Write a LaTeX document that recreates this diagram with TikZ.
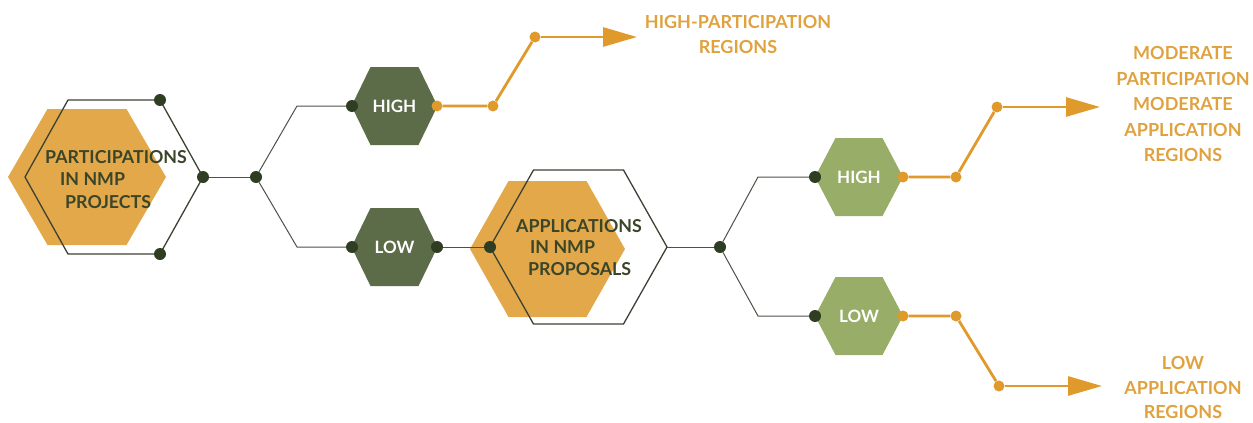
\documentclass[tikz,border=0pt]{standalone}
\usepackage{fontspec}
\setmainfont{Lato}
\usetikzlibrary{arrows.meta}

\definecolor{hexorange}{HTML}{E2A84A}
\definecolor{lineorange}{HTML}{E09A2C}
\definecolor{textorange}{HTML}{DFA23F}
\definecolor{darkhex}{HTML}{5C6B48}
\definecolor{lighthex}{HTML}{98AD68}
\definecolor{dotgreen}{HTML}{2F3D22}
\definecolor{outline}{HTML}{3C4233}
\definecolor{linegray}{HTML}{4F5048}
\definecolor{textdark}{HTML}{3B4529}

\tikzset{
  pics/hexa/.style n args={3}{code={
    \path[pic actions] (-#1,0) -- (-#2,#3) -- (#2,#3) -- (#1,0) -- (#2,-#3) -- (-#2,-#3) -- cycle;
  }},
}

\begin{document}
\begin{tikzpicture}[x=1pt,y=-1pt,
    dot/.style={circle,fill=dotgreen,inner sep=0pt,minimum size=12pt},
    odot/.style={circle,fill=lineorange,inner sep=0pt,minimum size=11pt},
    thinline/.style={draw=linegray,line width=1pt},
    orangeline/.style={draw=lineorange,line width=2.8pt},
    arrowline/.style={orangeline,-{Triangle[length=34pt,width=19pt]}},
    hexline/.style={draw=outline,line width=1.3pt},
    biglabel/.style={font=\fontsize{17.8}{22.5}\selectfont\bfseries,text=textdark,align=left,inner sep=0pt},
    smalllabel/.style={font=\fontsize{17}{20}\selectfont\bfseries,text=white,inner sep=0pt},
    result/.style={font=\fontsize{18}{25.5}\selectfont\bfseries,text=textorange,align=center,inner sep=0pt}]
        \useasboundingbox (0,0) rectangle (1253,423);

        \pic[fill=hexorange] at (87,177) {hexa={79}{39.5}{68}};
        \pic[hexline] at (114,177) {hexa={89}{46}{77}};
        \pic[fill=darkhex] at (394.5,106) {hexa={43}{24}{39}};
        \pic[fill=darkhex] at (394.5,247) {hexa={43}{24}{39}};
        \pic[fill=hexorange] at (547.5,249) {hexa={77.5}{39}{68}};
        \pic[hexline] at (578.5,247) {hexa={88.5}{45}{77}};
        \pic[fill=lighthex] at (859,177) {hexa={44}{23.5}{39}};
        \pic[fill=lighthex] at (859,316) {hexa={44}{23.5}{39}};

        \node[dot] (p1) at (160,100) {};
        \node[dot] (p2) at (203,177) {};
        \node[dot] (p3) at (160,254) {};
        \node[dot] (j1) at (256,177) {};
        \node[dot] (h1l) at (352,106) {};
        \node[odot] (h1r) at (437,106) {};
        \node[dot] (l1l) at (352,247) {};
        \node[dot] (l1r) at (437,247) {};
        \node[dot] (a2l) at (490,247) {};
        \coordinate (a2r) at (667,247);
        \node[dot] (j2) at (720,247) {};
        \node[dot] (h2l) at (815,177) {};
        \node[odot] (h2r) at (903,177) {};
        \node[dot] (l2l) at (815,316) {};
        \node[odot] (l2r) at (903,316) {};

        \node[odot] (h1a) at (493,106) {};
        \node[odot] (h1b) at (535,37) {};
        \coordinate (h1t) at (637,37);
        \node[odot] (h2a) at (956,177) {};
        \node[odot] (h2b) at (997,107) {};
        \coordinate (h2t) at (1100,107);
        \node[odot] (l2a) at (956,316) {};
        \node[odot] (l2b) at (999,386) {};
        \coordinate (l2t) at (1102,386);

        \coordinate (b1) at (297,106);
        \coordinate (b2) at (297,247);
        \coordinate (b3) at (758,177);
        \coordinate (b4) at (758,316);

        \draw[thinline] (p2) -- (j1);
        \draw[thinline] (j1) -- (b1) -- (h1l);
        \draw[thinline] (j1) -- (b2) -- (l1l);
        \draw[thinline] (l1r) -- (a2l);
        \draw[thinline] (a2r) -- (j2);
        \draw[thinline] (j2) -- (b3) -- (h2l);
        \draw[thinline] (j2) -- (b4) -- (l2l);

        \draw[orangeline] (h1r) -- (h1a) -- (h1b);
        \draw[arrowline] (h1b) -- (h1t);
        \draw[orangeline] (h2r) -- (h2a) -- (h2b);
        \draw[arrowline] (h2b) -- (h2t);
        \draw[orangeline] (l2r) -- (l2a) -- (l2b);
        \draw[arrowline] (l2b) -- (l2t);

        \node[biglabel,anchor=west] (part) at (45,179.5) {PARTICIPATIONS\\\hspace*{15pt}IN NMP\\\hspace*{20pt}PROJECTS};
        \node[biglabel,anchor=west,font=\fontsize{17.8}{21.5}\selectfont\bfseries] (appl) at (516,247.5) {APPLICATIONS\\\hspace*{14pt}IN NMP\\\hspace*{12pt}PROPOSALS};

        \node[smalllabel] (high1) at (394.5,106) {HIGH};
        \node[smalllabel] (low1) at (394.5,247) {LOW};
        \node[smalllabel] (high2) at (859,177) {HIGH};
        \node[smalllabel] (low2) at (859,316) {LOW};

        \node[result] (res1) at (738,34.5) {HIGH-PARTICIPATION\\REGIONS};
        \node[result] (res2) at (1183,104) {MODERATE\\PARTICIPATION\\MODERATE\\APPLICATION\\REGIONS};
        \node[result,font=\fontsize{18}{24.5}\selectfont\bfseries] (res3) at (1183,387.5) {LOW\\APPLICATION\\REGIONS};

    \end{tikzpicture}
\end{document}
